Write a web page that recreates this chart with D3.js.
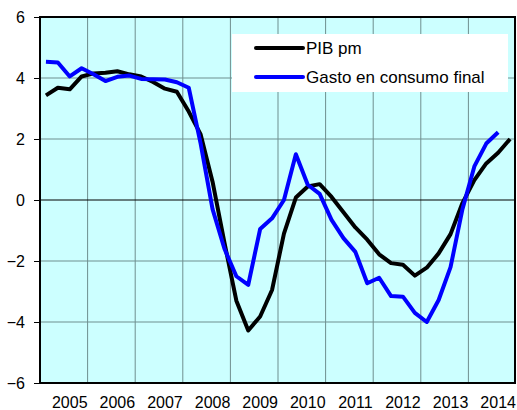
<!DOCTYPE html>
<meta charset="utf-8">
<html>
    <head>
        <script src="https://d3js.org/d3.v7.min.js"></script>
    </head>
    <style>
        body { margin: 0; background: #fff; }
        text { font-family: "Liberation Sans", Arial, sans-serif; }
    </style>
    <body>

        <div id="line_viz"></div>

        <script>

            // quarterly data, 2005Q1 .. 2014Q4
            var years = ["2005", "2006", "2007", "2008", "2009", "2010", "2011", "2012", "2013", "2014"]
            var yTicks = [-6, -4, -2, 0, 2, 4, 6]

            var pib = [
                3.43, 3.68, 3.63, 4.05,
                4.15, 4.17, 4.22, 4.12,
                4.05, 3.87, 3.65, 3.55,
                2.9, 2.15, 0.6, -1.4,
                -3.3, -4.28, -3.82, -2.95,
                -1.1, 0.08, 0.44, 0.52,
                0.1, -0.4, -0.9, -1.3,
                -1.78, -2.07, -2.12, -2.48,
                -2.22, -1.75, -1.12, -0.1,
                0.65, 1.2, 1.55, 2.0
            ]
            var gasto = [
                4.53, 4.51, 4.05, 4.32,
                4.12, 3.9, 4.04, 4.08,
                3.97, 3.96, 3.95, 3.86,
                3.68, 1.85, -0.3, -1.6,
                -2.5, -2.78, -0.95, -0.6,
                0.0, 1.5, 0.5, 0.2,
                -0.65, -1.25, -1.7, -2.73,
                -2.55, -3.15, -3.17, -3.7,
                -4.0, -3.28, -2.2, -0.3,
                1.1, 1.85, 2.22
            ]
            var seriesNames = ["PIB pm", "Gasto en consumo final"]
            var seriesColors = ["#000000", "#0000ff"]

            var width = 517, height = 410
            var marginTop = 17, marginRight = 1, marginBottom = 27, marginLeft = 40

            var svg = d3.select("#line_viz")
                .append("svg")
                .attr("width", width)
                .attr("height", height)

            var x = d3.scaleLinear()
                .domain([-0.5, years.length * 4 - 0.5])
                .range([marginLeft, width - marginRight])
            var y = d3.scaleLinear()
                .domain([-6, 6])
                .range([height - marginBottom, marginTop])

            // plot background
            svg.append("rect")
                .attr("x", x.range()[0])
                .attr("y", y(6))
                .attr("width", x.range()[1] - x.range()[0])
                .attr("height", y(-6) - y(6))
                .attr("fill", "#ccffff")

            // vertical grid at year boundaries
            svg.append("g")
                .selectAll("line")
                .data(d3.range(1, years.length))
                .join("line")
                .attr("x1", k => x(k * 4 - 0.5))
                .attr("x2", k => x(k * 4 - 0.5))
                .attr("y1", y(6))
                .attr("y2", y(-6))
                .attr("stroke", "#6f8f8f")
                .attr("stroke-width", 1)

            // horizontal grid
            svg.append("g")
                .selectAll("line")
                .data(yTicks.filter(d => d > -6 && d < 6))
                .join("line")
                .attr("x1", x.range()[0])
                .attr("x2", x.range()[1])
                .attr("y1", d => y(d))
                .attr("y2", d => y(d))
                .attr("stroke", d => d == 0 ? "#000" : "#6f8f8f")
                .attr("stroke-width", 1)

            // y axis
            var yAxis = d3.axisLeft(y).tickValues(yTicks).tickSize(6).tickPadding(9)
            svg.append("g")
                .attr("transform", `translate(${marginLeft},0)`)
                .call(yAxis)
                .call(g => g.select(".domain").remove())
                .call(g => g.selectAll(".tick line").attr("stroke", "#000"))
                .call(g => g.selectAll(".tick text")
                    .attr("font-size", 16)
                    .attr("font-family", "Liberation Sans, Arial, sans-serif")
                    .attr("fill", "#000"))

            // x labels, placed under the third quarter of each year
            svg.append("g")
                .selectAll("text")
                .data(years)
                .join("text")
                .attr("x", (d, i) => x(i * 4 + 2))
                .attr("y", 408)
                .attr("text-anchor", "middle")
                .attr("font-size", 16)
                .attr("fill", "#000")
                .text(d => d)

            // series
            var line = d3.line()
                .x((d, i) => x(i))
                .y(d => y(d))

            svg.append("g")
                .attr("fill", "none")
                .attr("stroke-width", 4)
                .attr("stroke-linejoin", "round")
                .selectAll("path")
                .data([pib, gasto])
                .join("path")
                .attr("stroke", (d, i) => seriesColors[i])
                .attr("d", line)

            // plot border
            svg.append("rect")
                .attr("x", x.range()[0])
                .attr("y", y(6))
                .attr("width", x.range()[1] - x.range()[0] - 1)
                .attr("height", y(-6) - y(6))
                .attr("fill", "none")
                .attr("stroke", "#000")
                .attr("stroke-width", 2)

            // legend
            var legend = svg.append("g")
            legend.append("rect")
                .attr("x", 232)
                .attr("y", 34)
                .attr("width", 276)
                .attr("height", 58)
                .attr("fill", "#fff")

            var item = legend.selectAll("g")
                .data(seriesNames)
                .join("g")
                .attr("transform", (d, i) => `translate(256,${48 + i * 29})`)
            item.append("line")
                .attr("x1", 0)
                .attr("x2", 47)
                .attr("stroke", (d, i) => seriesColors[i])
                .attr("stroke-width", 4)
                .attr("stroke-linecap", "round")
            item.append("text")
                .attr("x", 50)
                .attr("y", 6)
                .attr("font-size", 17)
                .attr("fill", "#000")
                .text(d => d)

        </script>
    </body>
</html>
